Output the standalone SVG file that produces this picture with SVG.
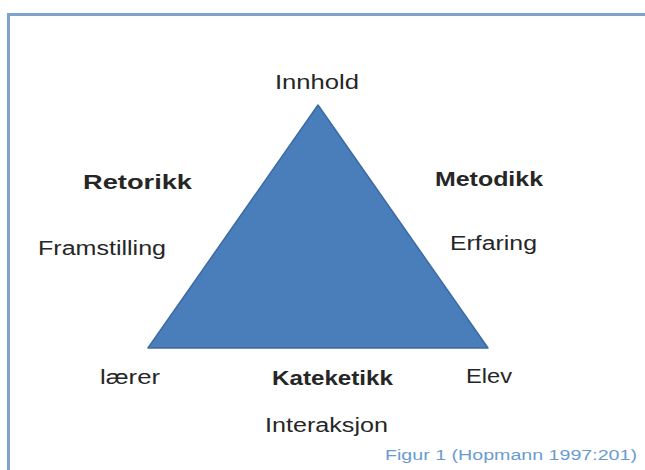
<svg xmlns="http://www.w3.org/2000/svg" width="645" height="470" viewBox="0 0 645 470">
  <style>
    .lbl { font-family: "Liberation Sans", Arial, sans-serif; font-size: 20px; fill: #262626; }
    .bold { font-weight: bold; }
    .cap { font-family: "Liberation Sans", Arial, sans-serif; font-size: 15.5px; fill: #6a9bd0; }
  </style>
  <rect width="645" height="470" fill="#ffffff"/>
  <!-- outer frame -->
  <rect x="8.5" y="14.5" width="660" height="480" fill="none" stroke="#7fa3cf" stroke-width="3"/>
  <!-- triangle -->
  <g id="triangle">
    <polygon points="318,105 148,348 488,348" fill="#4a7ebb" stroke="#3c6aa3" stroke-width="1.5" stroke-linejoin="round"/>
  </g>
  <g id="innhold"><text class="lbl" x="275" y="89" textLength="84" lengthAdjust="spacingAndGlyphs">Innhold</text></g>
  <g id="retorikk">
    <text class="lbl bold" x="83" y="189" textLength="109" lengthAdjust="spacingAndGlyphs">Retorikk</text>
    <text class="lbl" x="38" y="255" textLength="128" lengthAdjust="spacingAndGlyphs">Framstilling</text>
  </g>
  <g id="metodikk">
    <text class="lbl bold" x="435" y="186" textLength="108" lengthAdjust="spacingAndGlyphs">Metodikk</text>
    <text class="lbl" x="450" y="250" textLength="87" lengthAdjust="spacingAndGlyphs">Erfaring</text>
  </g>
  <g id="laerer"><text class="lbl" x="100" y="384" textLength="60" lengthAdjust="spacingAndGlyphs">lærer</text></g>
  <g id="kateketikk">
    <text class="lbl bold" x="272" y="385" textLength="121" lengthAdjust="spacingAndGlyphs">Kateketikk</text>
    <text class="lbl" x="265" y="432" textLength="123" lengthAdjust="spacingAndGlyphs">Interaksjon</text>
  </g>
  <g id="elev"><text class="lbl" x="466" y="383" textLength="46" lengthAdjust="spacingAndGlyphs">Elev</text></g>
  <text class="cap" x="385" y="460" textLength="252" lengthAdjust="spacingAndGlyphs">Figur 1 (Hopmann 1997:201)</text>
</svg>
